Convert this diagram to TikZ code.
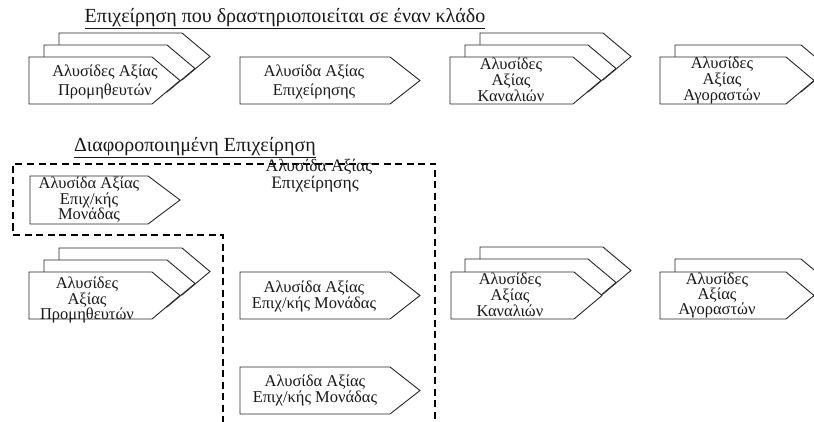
\documentclass[tikz,border=0pt]{standalone}
\usepackage{fontspec}
\setmainfont{Liberation Serif}
\begin{document}
\begin{tikzpicture}[x=1pt,y=-1pt,
  box/.style={draw=black!85, line width=0.9pt, fill=white},
  frame/.style={draw=black, line width=1.8pt, dash pattern=on 7pt off 4.5pt},
  lbl/.style={inner sep=0pt, align=center, text=black!90},
  two/.style={lbl, font=\fontsize{16.5}{19}\selectfont},
  three/.style={lbl, font=\fontsize{16.5}{16}\selectfont},
  head/.style={inner sep=0pt, text=black!90, font=\fontsize{20}{22}\selectfont}]
\useasboundingbox (0,0) rectangle (814,422);
\clip (0,0) rectangle (814,422);

% chevron: left x, top y, body width, height, tip length
\newcommand\chevbox[5]{%
  \draw[box] (#1,#2) -- ++(#3,0) -- ++(#5,#4/2) -- ++(-#5,#4/2) -- ++(-#3,0) -- cycle;}

% ---- single industry firm ----
\node[head] (title1) at (285,19) {\underline{Επιχείρηση που δραστηριοποιείται σε έναν κλάδο}};

\chevbox{59}{33}{123}{47}{28}
\chevbox{44}{45}{123}{47}{28}
\chevbox{29}{57}{123}{47}{28}
\node[two] (sup1) at (105,82) {Αλυσίδες Αξίας\\Προμηθευτών};

\chevbox{240}{57}{150}{47}{30}
\node[two] (firm1) at (314,82) {Αλυσίδα Αξίας\\Επιχείρησης};

\chevbox{480}{33}{123}{47}{28}
\chevbox{465}{45}{123}{47}{28}
\chevbox{450}{57}{123}{47}{28}
\node[three] (chan1) at (511,80) {Αλυσίδες\\Αξίας\\Καναλιών};

\chevbox{675}{45}{126}{47}{28}
\chevbox{660}{57}{126}{47}{28}
\node[three] (buy1) at (722,80) {Αλυσίδες\\Αξίας\\Αγοραστών};

% ---- diversified firm ----
\node[head] (title2) at (195,148) {\underline{Διαφοροποιημένη Επιχείρηση}};

\draw[frame] (435,430) -- (435,164) -- (13,164) -- (13,235) -- (223,235) -- (223,430);
\node[lbl, font=\fontsize{17.5}{19}\selectfont] (firm0a) at (319,167) {Αλυσίδα Αξίας};
\node[lbl, font=\fontsize{17.5}{19}\selectfont] (firm0b) at (315,184) {Επιχείρησης};

\chevbox{30}{176}{118}{48}{32}
\node[lbl, font=\fontsize{16.5}{15.5}\selectfont] (unit0) at (89,200) {Αλυσίδα Αξίας\\Επιχ/κής\\Μονάδας};

\chevbox{59}{248}{123}{47}{28}
\chevbox{44}{260}{123}{47}{28}
\chevbox{29}{272}{123}{47}{28}
\node[lbl, font=\fontsize{16.5}{14.5}\selectfont] (sup2) at (87,300) {Αλυσίδες\\Αξίας\\Προμηθευτών};

\chevbox{240}{272}{150}{47}{30}
\node[lbl, font=\fontsize{16.5}{16}\selectfont] (unit1) at (314,296) {Αλυσίδα Αξίας\\Επιχ/κής Μονάδας};

\chevbox{240}{367}{150}{47}{30}
\node[lbl, font=\fontsize{16.5}{16}\selectfont] (unit2) at (315,390) {Αλυσίδα Αξίας\\Επιχ/κής Μονάδας};

\chevbox{480}{247}{123}{47}{28}
\chevbox{465}{259}{123}{47}{28}
\chevbox{451}{272}{123}{47}{28}
\node[lbl, font=\fontsize{16.5}{16}\selectfont] (chan2) at (510,295) {Αλυσίδες\\Αξίας\\Καναλιών};

\chevbox{675}{259}{126}{47}{28}
\chevbox{660}{272}{126}{47}{28}
\node[lbl, font=\fontsize{16.5}{15}\selectfont] (buy2) at (717,295) {Αλυσίδες\\Αξίας\\Αγοραστών};
\end{tikzpicture}
\end{document}
